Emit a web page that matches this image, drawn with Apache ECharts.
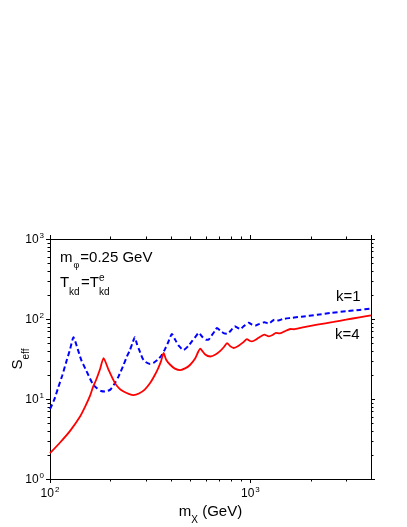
<!DOCTYPE html>
<html>
<head>
<meta charset="utf-8">
<script src="https://cdn.jsdelivr.net/npm/echarts@6/dist/echarts.min.js"></script>
<style>
  html, body { margin: 0; padding: 0; background: #fff; }
  #chart { width: 407px; height: 527px; }
</style>
</head>
<body>
<div id="chart"></div>
<script>
// k=1 (blue dashed)
const mX_k1 = [100, 105, 110, 115, 121, 126, 131, 136, 143, 150, 156, 164, 171, 180, 188, 200, 211, 220, 233, 242, 251, 258, 265,
  272, 280, 290, 300, 316, 330, 345, 360, 375, 390, 406, 420, 440, 464, 490, 515, 535, 552, 575, 600, 617, 640, 668, 680,
  710, 740, 765, 800, 835, 860, 891, 930, 980, 1020, 1059, 1110, 1175, 1236, 1318, 1380, 1450, 1585, 1800, 2155, 2500, 3000, 3500, 4000];
const S_k1 = [7.5, 9.8, 14, 19.5, 30, 42, 59, 46, 31, 24, 19.5, 15.2, 13.7, 12.6, 12.4, 13.1, 15.8, 19.2, 26.8, 34, 41.3, 50, 59,
  48, 40, 32, 29, 27.4, 28.5, 31, 35, 42, 52, 65, 56, 46, 41, 46, 54, 61, 67, 60, 55, 55, 62, 72, 77,
  71, 66, 65.5, 72, 81, 78, 75, 82, 90, 85, 83, 87, 91, 88, 98, 96, 100, 103, 107, 113, 119, 125, 130, 134.6];

// k=4 (red solid)
const mX_k4 = [100, 112, 126, 141, 150, 158.5, 164, 170, 178, 185, 196, 211, 222, 233, 247, 261, 278, 297, 316, 332, 347, 358, 369,
  380, 398, 420, 447, 475, 501, 530, 562, 595, 631, 670, 708, 740, 765, 795, 826, 870, 920, 962, 990, 1019, 1080, 1175, 1236,
  1290, 1340, 1400, 1480, 1585, 1650, 1800, 2155, 2600, 3000, 3500, 4000];
const S_k4 = [2.1, 2.84, 4.0, 6.0, 8.1, 11.0, 14.2, 17.4, 23.9, 32.4, 23.2, 15.8, 13.5, 12.4, 11.6, 11.2, 11.7, 13.1, 15.8, 19.5, 24.4, 29.5, 37.6,
  31, 26.8, 24, 23, 24.3, 26.8, 32, 42.5, 36, 34, 36, 40, 45, 50, 45.5, 43.4, 46, 51, 56, 53.5, 52.5, 56.5, 63.7, 60.7,
  63, 67, 66, 70, 75, 74.5, 78, 85, 92, 98, 105, 111];

const xMinorTicks = [200, 300, 400, 500, 600, 700, 800, 900, 2000, 3000];
const yMinorTicks = [2, 3, 4, 5, 6, 7, 8, 9, 20, 30, 40, 50, 60, 70, 80, 90, 200, 300, 400, 500, 600, 700, 800, 900];

const X_MIN = 100, X_MAX = 4000, Y_MIN = 1, Y_MAX = 1000;
const FONT = '"Liberation Sans", Arial, sans-serif';

const zip = (a, b) => a.map((v, i) => [v, b[i]]);

const powLabel = v => {
  const e = Math.log10(v);
  if (Math.abs(e - Math.round(e)) > 1e-6) return '';
  return '{b|10}{s|' + Math.round(e) + '}';
};
const powRich = {
  b: { fontSize: 12, fontFamily: FONT, color: '#000', lineHeight: 14, verticalAlign: 'bottom' },
  s: { fontSize: 8, fontFamily: FONT, color: '#000', lineHeight: 14, verticalAlign: 'top', padding: [0, 0, 0, 1] }
};
const nameRich = {
  m: { fontSize: 15, fontFamily: FONT, color: '#000', lineHeight: 18, verticalAlign: 'top' },
  sub: { fontSize: 10, fontFamily: FONT, color: '#000', lineHeight: 18, verticalAlign: 'bottom', padding: [0, 0, -3, 0] }
};

const axisCommon = {
  splitLine: { show: false },
  axisLine: { lineStyle: { color: '#000', width: 1 } },
  axisTick: { inside: false, length: 4, lineStyle: { color: '#000' } },
  minorTick: { show: false },
  nameMoveOverlap: false
};

const chart = echarts.init(document.getElementById('chart'), null, { renderer: 'canvas' });

const option = {
  animation: false,
  backgroundColor: '#fff',
  grid: { left: 50, right: 36, top: 239, bottom: 48, containLabel: false, outerBoundsMode: 'none' },
  xAxis: [
    Object.assign({}, axisCommon, {
      type: 'log', logBase: 10, min: X_MIN, max: X_MAX, position: 'bottom',
      axisLabel: { formatter: powLabel, rich: powRich, margin: 7, showMaxLabel: false },
      name: '{m|m}{sub|X}{m| (GeV)}',
      nameLocation: 'middle', nameGap: 25,
      nameTextStyle: { rich: nameRich }
    }),
    Object.assign({}, axisCommon, {
      type: 'log', logBase: 10, min: X_MIN, max: X_MAX, position: 'top',
      axisLabel: { show: false }
    })
  ],
  yAxis: [
    Object.assign({}, axisCommon, {
      type: 'log', logBase: 10, min: Y_MIN, max: Y_MAX, position: 'left',
      axisLabel: { formatter: powLabel, rich: powRich, margin: 6 },
      name: '{m|S}{sub|eff}',
      nameLocation: 'middle', nameGap: 22, nameRotate: 90,
      nameTextStyle: { rich: nameRich }
    }),
    Object.assign({}, axisCommon, {
      type: 'log', logBase: 10, min: Y_MIN, max: Y_MAX, position: 'right',
      axisLabel: { show: false }
    })
  ],
  series: [
    {
      name: 'k=1', type: 'line', data: zip(mX_k1, S_k1),
      showSymbol: false, symbol: 'none', smooth: 0.2,
      lineStyle: { color: '#0000ff', width: 2, type: [5, 3] },
      z: 3
    },
    {
      name: 'k=4', type: 'line', data: zip(mX_k4, S_k4),
      showSymbol: false, symbol: 'none', smooth: 0.2,
      lineStyle: { color: '#ff0000', width: 1.8 },
      z: 4
    },
    {
      type: 'custom', silent: true, clip: false,
      data: xMinorTicks.map(v => [v, Y_MIN]),
      renderItem: (params, api) => {
        const v = api.value(0);
        const b = api.coord([v, Y_MIN]);
        const t = api.coord([v, Y_MAX]);
        const x = Math.round(b[0]) + 0.5;
        return {
          type: 'group', children: [
            { type: 'line', shape: { x1: x, y1: b[1], x2: x, y2: b[1] + 2.5 }, style: { stroke: '#000', lineWidth: 1 } },
            { type: 'line', shape: { x1: x, y1: t[1], x2: x, y2: t[1] - 2.5 }, style: { stroke: '#000', lineWidth: 1 } }
          ]
        };
      }
    },
    {
      type: 'custom', silent: true, clip: false,
      data: yMinorTicks.map(v => [X_MIN, v]),
      renderItem: (params, api) => {
        const v = api.value(1);
        const l = api.coord([X_MIN, v]);
        const r = api.coord([X_MAX, v]);
        const y = Math.round(l[1]) + 0.5;
        return {
          type: 'group', children: [
            { type: 'line', shape: { x1: l[0], y1: y, x2: l[0] - 2.5, y2: y }, style: { stroke: '#000', lineWidth: 1 } },
            { type: 'line', shape: { x1: r[0], y1: y, x2: r[0] + 2.5, y2: y }, style: { stroke: '#000', lineWidth: 1 } }
          ]
        };
      }
    }
  ],
  graphic: [
    { type: 'text', left: 60, top: 250, style: {
      text: '{a|m}{b|φ}{a|=0.25 GeV}',
      rich: {
        a: { fontSize: 15, fontFamily: FONT, fill: '#000', lineHeight: 16, verticalAlign: 'top' },
        b: { fontSize: 9, fontFamily: FONT, fill: '#000', lineHeight: 16, verticalAlign: 'bottom', padding: [0, 1, -4, 1] }
      } } },
    { type: 'text', x: 60, y: 275, style: { text: 'T', font: '15px ' + FONT, fill: '#000' } },
    { type: 'text', x: 69, y: 287, style: { text: 'kd', font: '10px ' + FONT, fill: '#000' } },
    { type: 'text', x: 81, y: 275, style: { text: '=T', font: '15px ' + FONT, fill: '#000' } },
    { type: 'text', x: 99, y: 273, style: { text: 'e', font: '10px ' + FONT, fill: '#000' } },
    { type: 'text', x: 99, y: 287, style: { text: 'kd', font: '10px ' + FONT, fill: '#000' } },
    { type: 'text', x: 336, y: 289, style: { text: 'k=1', font: '15px ' + FONT, fill: '#000' } },
    { type: 'text', x: 335, y: 327, style: { text: 'k=4', font: '15px ' + FONT, fill: '#000' } }
  ]
};

chart.setOption(option);

window.addEventListener('resize', () => {
  chart.resize();
});
</script>
</body>
</html>
